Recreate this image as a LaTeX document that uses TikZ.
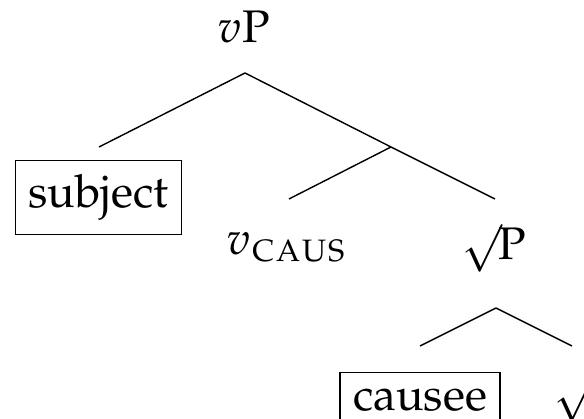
\documentclass[tikz,border=0pt]{standalone}
\usepackage[T1]{fontenc}
\usepackage{mathpazo}
\usepackage{tikz}

\newcommand{\subsc}[1]{{\fontsize{11}{13}\selectfont\textsc{#1}}}

\begin{document}
\begin{tikzpicture}[x=0.01cm,y=-0.01cm,
  every node/.style={font=\fontsize{13}{16}\selectfont},
  boxed/.style={draw,anchor=north,inner xsep=0.13cm,inner ysep=0.14cm}]

\useasboundingbox (0,0) rectangle (584,419);


\node[anchor=base] (vp) at (244,43) {$v$P};
\node[boxed] (subj) at (98.5,160) {subject};
\node[anchor=base west] (vcaus) at (215,255) {$v_{\subsc{caus}}$};
\node[anchor=base east] (rootp) at (539,260) {$\surd$\kern-0.08em P};
\node[boxed,inner ysep=0.16cm] (causee) at (420,372) {causee};
\node[anchor=base west] (root) at (542,410) {$\surd$};


\coordinate (top) at (245,73);
\coordinate (mid) at (391,147);
\coordinate (low) at (496,308);
\coordinate (subj-end) at (99,147);
\coordinate (vcaus-end) at (289,199);
\coordinate (rootp-end) at (495,199);
\coordinate (causee-end) at (420,346);
\coordinate (root-end) at (572,346);

\draw (top) -- (subj-end);
\draw (top) -- (mid) -- (rootp-end);
\draw (mid) -- (vcaus-end);

\draw (low) -- (causee-end);
\draw (low) -- (root-end);

\end{tikzpicture}
\end{document}
